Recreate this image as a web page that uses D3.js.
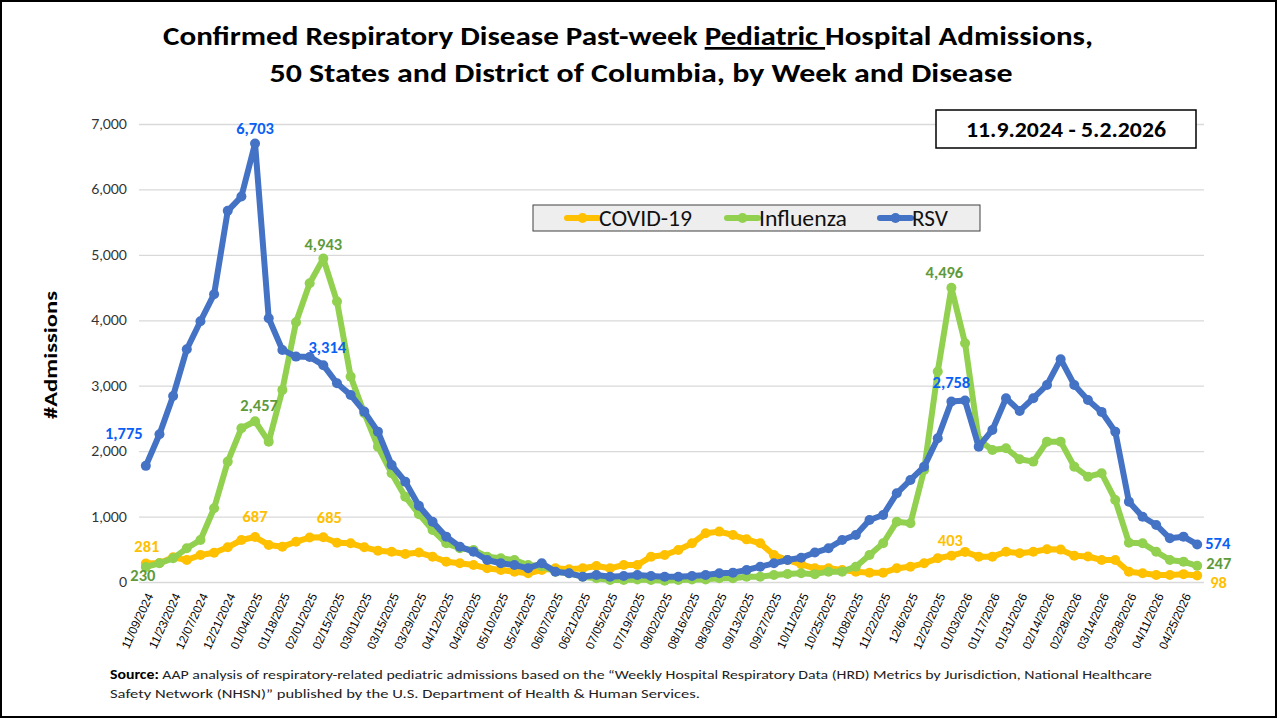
<!DOCTYPE html>
<html lang="en">
<head>
<meta charset="UTF-8">
<script src="https://d3js.org/d3.v7.min.js"></script>
<title>Pediatric Admissions</title>
<style>
  body { margin: 0; background: #fff; }
  svg { display: block; font-family: Calibri, Carlito, Lato, sans-serif; }
</style>
</head>
<body>
<svg id="chart" width="1279" height="719"></svg>
<script>
// weekly values, 11/09/2024 .. 05/02/2026 (78 weeks)
const covid = [281, 290, 377, 336, 413, 448, 530, 642, 687, 566, 540, 616, 680, 685, 601, 592, 530, 479, 463, 428,
  450, 387, 311, 286, 260, 209, 183, 158, 133, 183, 209, 196, 209, 245, 209, 260, 260, 387, 413, 489,
  591, 744, 770, 718, 652, 591, 413, 336, 270, 209, 209, 183, 158, 143, 143, 209, 234, 286, 362, 403,
  460, 387, 387, 463, 439, 463, 500, 495, 400, 390, 336, 336, 158, 133, 107, 107, 120, 98];
const influenza = [230, 286, 362, 515, 642, 1127, 1840, 2350, 2457, 2145, 2936, 3970, 4567, 4943, 4286, 3139, 2580, 2069, 1662, 1304,
  1037, 795, 591, 515, 489, 387, 362, 336, 260, 240, 158, 133, 81, 56, 31, 31, 40, 31, 20, 31,
  40, 40, 56, 56, 81, 81, 107, 122, 133, 120, 158, 158, 234, 413, 592, 922, 897, 1713, 3216, 4496,
  3650, 2171, 2018, 2044, 1876, 1840, 2145, 2145, 1763, 1610, 1662, 1254, 601, 592, 463, 336, 311, 247];
const rsv = [1775, 2258, 2844, 3558, 3986, 4399, 5673, 5891, 6703, 4032, 3547, 3445, 3440, 3314, 3038, 2859, 2604, 2298, 1789, 1534,
  1165, 922, 693, 540, 463, 336, 286, 260, 209, 286, 158, 133, 81, 107, 81, 92, 107, 92, 81, 81,
  92, 107, 133, 143, 183, 234, 286, 336, 370, 450, 515, 642, 719, 948, 1024, 1356, 1560, 1763, 2197, 2758,
  2773, 2069, 2324, 2809, 2615, 2809, 3012, 3405, 3012, 2783, 2600, 2298, 1228, 998, 872, 668, 693, 574];

// every other week is labelled on the axis
const tickLabels = ["11/09/2024", "11/23/2024", "12/07/2024", "12/21/2024", "01/04/2025", "01/18/2025", "02/01/2025",
  "02/15/2025", "03/01/2025", "03/15/2025", "03/29/2025", "04/12/2025", "04/26/2025", "05/10/2025", "05/24/2025",
  "06/07/2025", "06/21/2025", "07/05/2025", "07/19/2025", "08/02/2025", "08/16/2025", "08/30/2025", "09/13/2025",
  "09/27/2025", "10/11/2025", "10/25/2025", "11/08/2025", "11/22/2025", "12/6/2025", "12/20/2025", "01/03/2026",
  "01/17/2026", "01/31/2026", "02/14/2026", "02/28/2026", "03/14/2026", "03/28/2026", "04/11/2026", "04/25/2026"];

const seriesNames = ["COVID-19", "Influenza", "RSV"];
const seriesValues = [covid, influenza, rsv];
const lineColors = ["#FFC000", "#92D050", "#4472C4"];
const labelColors = ["#FFC000", "#5E9A3A", "#0A5FF5"];

// which points get a value label, and where it sits relative to the point
const callouts = [
  {s: 2, i: 0, dx: -22, dy: -27}, {s: 2, i: 8, dx: 0, dy: -9}, {s: 2, i: 13, dx: 4, dy: -12},
  {s: 2, i: 59, dx: 0, dy: -14}, {s: 2, i: 77, dx: 8, dy: 5, anchor: "start"},
  {s: 1, i: 0, dx: -3, dy: 14}, {s: 1, i: 8, dx: 4, dy: -10}, {s: 1, i: 13, dx: 0, dy: -9},
  {s: 1, i: 59, dx: -7, dy: -10}, {s: 1, i: 77, dx: 9, dy: 3, anchor: "start"},
  {s: 0, i: 0, dx: 1, dy: -12}, {s: 0, i: 8, dx: 0, dy: -15}, {s: 0, i: 13, dx: 6, dy: -14},
  {s: 0, i: 59, dx: -1, dy: -10}, {s: 0, i: 77, dx: 13, dy: 12, anchor: "start"}
];

const svg = d3.select("svg#chart");
const W = +svg.attr("width"), H = +svg.attr("height");
const plot = {left: 139, right: 1204, top: 124, bottom: 582};

svg.append("rect").attr("x", 1).attr("y", 1).attr("width", W - 4).attr("height", H - 3)
   .attr("fill", "#fff").attr("stroke", "#000").attr("stroke-width", 2);

// title
const title = svg.append("g").attr("font-weight", "bold").attr("font-size", 27).attr("text-anchor", "middle");
const t1 = title.append("text").attr("x", 628).attr("y", 45).attr("textLength", 930).attr("lengthAdjust", "spacingAndGlyphs");
t1.append("tspan").text("Confirmed Respiratory Disease Past-week ");
t1.append("tspan").attr("text-decoration", "underline").text("Pediatric ");
t1.append("tspan").text("Hospital Admissions,");
title.append("text").attr("x", 641).attr("y", 82).attr("textLength", 743).attr("lengthAdjust", "spacingAndGlyphs")
     .text("50 States and District of Columbia, by Week and Disease");

// scales
const x = d3.scaleBand().domain(d3.range(rsv.length)).range([plot.left, plot.right]);
const y = d3.scaleLinear().domain([0, 7000]).range([plot.bottom, plot.top]);
const cx = i => x(i) + x.bandwidth() / 2;

// y axis + gridlines
const yAxis = svg.append("g").attr("transform", `translate(${plot.left},0)`)
  .call(d3.axisLeft(y).tickValues(d3.range(0, 7001, 1000)).tickFormat(d3.format(","))
        .tickSize(-(plot.right - plot.left)).tickPadding(12));
yAxis.select(".domain").remove();
yAxis.selectAll("line").attr("stroke", "#d9d9d9").attr("stroke-width", 1.3);
yAxis.selectAll("text").attr("font-family", "Lato, sans-serif").attr("font-size", 14).attr("fill", "#333");

svg.append("text").attr("transform", "translate(57,355) rotate(-90)").attr("text-anchor", "middle")
   .attr("font-weight", "bold").attr("font-size", 19).attr("textLength", 128).attr("lengthAdjust", "spacingAndGlyphs")
   .text("#Admissions");

// x axis
const evenWeeks = d3.range(0, rsv.length, 2);
const xAxis = svg.append("g").attr("transform", `translate(0,${plot.bottom})`)
  .call(d3.axisBottom(x).tickValues(evenWeeks).tickSize(0).tickFormat((d, k) => tickLabels[k]));
xAxis.select(".domain").remove();
xAxis.selectAll("text")
  .attr("font-family", "'Liberation Sans', Arial, sans-serif").attr("font-size", 12).attr("fill", "#000")
  .attr("text-anchor", "end").attr("y", 0).attr("dy", "0.35em")
  .attr("transform", "translate(4,12) rotate(-65)");

// date range box
svg.append("rect").attr("x", 936).attr("y", 110).attr("width", 260).attr("height", 38)
   .attr("fill", "#fff").attr("stroke", "#000").attr("stroke-width", 1.5);
svg.append("text").attr("x", 1066).attr("y", 137).attr("text-anchor", "middle")
   .attr("font-weight", "bold").attr("font-size", 22).attr("textLength", 200).attr("lengthAdjust", "spacingAndGlyphs")
   .text("11.9.2024 - 5.2.2026");

// lines
const line = d3.line().x((v, i) => cx(i)).y(v => y(v));
const series = svg.append("g").selectAll("g").data(seriesValues).join("g");
series.append("path").attr("d", d => line(d)).attr("fill", "none")
  .attr("stroke", (d, k) => lineColors[k]).attr("stroke-width", 6)
  .attr("stroke-linejoin", "round").attr("stroke-linecap", "round");
series.each(function(vals, k) {
  d3.select(this).selectAll("circle").data(vals).join("circle")
    .attr("cx", (v, i) => cx(i)).attr("cy", v => y(v)).attr("r", 5).attr("fill", lineColors[k]);
});

// value labels
svg.append("g").attr("font-weight", "bold").attr("font-size", 16.5)
  .selectAll("text").data(callouts).join("text")
  .attr("x", d => cx(d.i) + d.dx).attr("y", d => y(seriesValues[d.s][d.i]) + d.dy)
  .attr("text-anchor", d => d.anchor || "middle").attr("fill", d => labelColors[d.s])
  .text(d => d3.format(",")(seriesValues[d.s][d.i]));

// legend
const legend = svg.append("g");
legend.append("rect").attr("x", 533).attr("y", 205).attr("width", 447).attr("height", 26)
  .attr("fill", "#eeeeee").attr("stroke", "#404040").attr("stroke-width", 1);
const legendX = [567, 727, 880];
const legendTextWidth = [93, 88, 36];
seriesNames.forEach((name, k) => {
  const g = legend.append("g").attr("transform", `translate(${legendX[k]},218)`);
  g.append("line").attr("x1", 0).attr("x2", 31).attr("stroke", lineColors[k]).attr("stroke-width", 6).attr("stroke-linecap", "round");
  g.append("circle").attr("cx", 15.5).attr("r", 5).attr("fill", lineColors[k]);
  g.append("text").attr("x", 32).attr("y", 7.5).attr("font-size", 22).attr("fill", "#111")
    .attr("textLength", legendTextWidth[k]).attr("lengthAdjust", "spacingAndGlyphs").text(name);
});

// source note
const note = svg.append("g").attr("font-size", 13).attr("fill", "#222");
const n1 = note.append("text").attr("x", 110).attr("y", 679).attr("textLength", 1042).attr("lengthAdjust", "spacingAndGlyphs");
n1.append("tspan").attr("font-weight", "bold").attr("fill", "#000").text("Source:");
n1.append("tspan").text("  AAP analysis of respiratory-related pediatric admissions based on the \u201cWeekly Hospital Respiratory Data (HRD) Metrics by Jurisdiction, National Healthcare");
note.append("text").attr("x", 110).attr("y", 698).attr("textLength", 590).attr("lengthAdjust", "spacingAndGlyphs")
  .text("Safety Network (NHSN)\u201d published by the U.S. Department of Health & Human Services.");
</script>
</body>
</html>
